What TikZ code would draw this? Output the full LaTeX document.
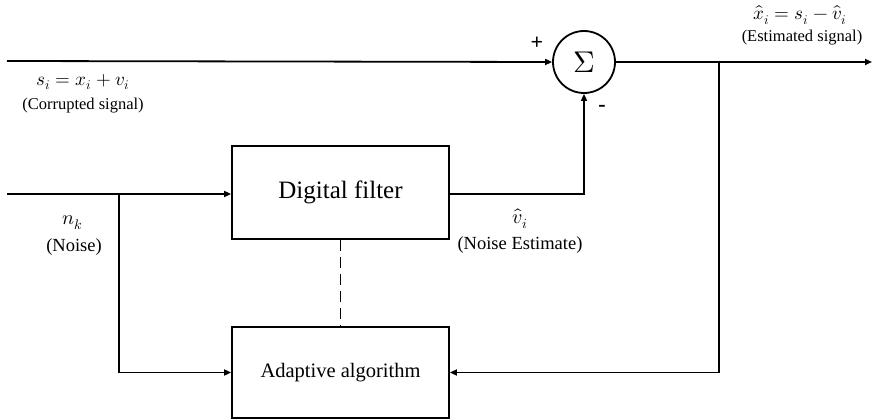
\documentclass[tikz,border=0pt]{standalone}
\usepackage{unicode-math}
\setmainfont{Liberation Serif}
\setmathfont{Latin Modern Math}
\usetikzlibrary{arrows.meta}
\begin{document}
\begin{tikzpicture}[x=1pt,y=-1pt,
  line width=1.8pt,
  arr/.style={-{Triangle[length=7pt,width=6pt]}},
  blk/.style={draw,rectangle,minimum width=217pt,inner sep=0pt},
  lbl/.style={inner sep=0pt,font=\fontsize{16.5}{18}\selectfont},
  lblb/.style={inner sep=0pt,font=\fontsize{18.5}{20}\selectfont},
  mth/.style={inner sep=0pt,font=\fontsize{19}{21}\selectfont},
  mthb/.style={inner sep=0pt,font=\fontsize{20}{22}\selectfont},
  sgn/.style={inner sep=0pt,font=\bfseries\fontsize{22}{24}\selectfont}]
\useasboundingbox (0,0) rectangle (873,420);
\node[draw,circle,minimum size=62pt,inner sep=0pt,font=\fontsize{30}{32}\selectfont] (sum) at (584,62) {$\Sigma$};
\node[blk,minimum height=93pt,font=\fontsize{25}{28}\selectfont] (df) at (340.5,192.5) {Digital filter};
\node[blk,minimum height=91pt,font=\fontsize{20.5}{24}\selectfont] (aa) at (340.5,372.5) {Adaptive algorithm};
\coordinate (sin) at (7,61);
\coordinate (nin) at (7,194);
\coordinate (nb) at (119,194);
\coordinate (ob) at (719,62);
\coordinate (out) at (872,62);
\draw[arr] (sin) -- (sum.west);
\draw[arr] (nin) -- (df.west |- nin);
\draw[arr] (nb) |- (aa.west);
\draw[arr] (df.east |- nin) -| (sum.south);
\draw[arr] (sum.east) -- (out);
\draw[arr] (ob) |- (aa.east);
\draw[dash pattern=on 11pt off 6pt] (df.south) -- (aa.north);
% labels
\node[mth] (l1) at (83,82) {$s_i = x_i + v_i$};
\node[lbl] (l2) at (83,106) {(Corrupted signal)};
\node[mth] (l3) at (800,15) {$\hat{x}_i = s_i - \hat{v}_i$};
\node[lbl] (l4) at (802,38) {(Estimated signal)};
\node[mthb] (l5) at (73,223) {$n_k$};
\node[lblb] (l6) at (74,247) {(Noise)};
\node[mthb] (l7) at (520,219) {$\hat{v}_i$};
\node[lblb] (l8) at (520,245) {(Noise Estimate)};
\node[sgn] (pl) at (537,43) {+};
\node[sgn] (mi) at (602,108) {-};
\end{tikzpicture}
\end{document}
